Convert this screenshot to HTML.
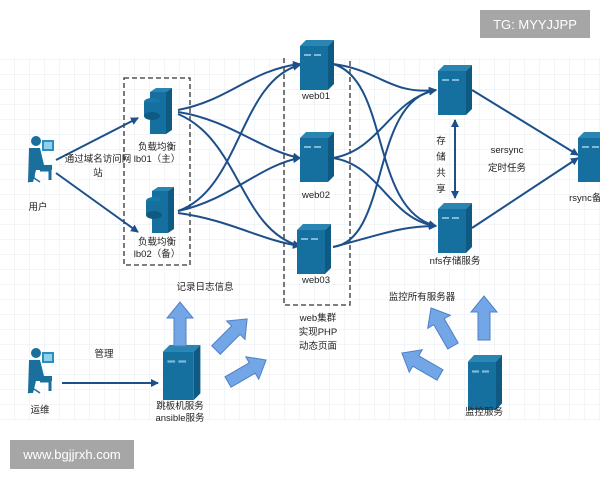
<!DOCTYPE html>
<html><head><meta charset="utf-8"><style>
body{margin:0;width:600px;height:480px;background:#fff;overflow:hidden;position:relative;font-family:"Liberation Sans","Noto Sans CJK SC",sans-serif}
.tag{position:absolute;background:#a6a6a6;color:#fff;font-size:13px;display:flex;align-items:center;justify-content:center}
</style></head><body>
<svg width="600" height="480" style="position:absolute;left:0;top:0" font-family="Liberation Sans, Noto Sans CJK SC, sans-serif">
<defs>
<pattern id="g" width="15" height="15" patternUnits="userSpaceOnUse"><path d="M15 0V15H0" fill="none" stroke="#e6ecf2" stroke-width="1"/></pattern>
<marker id="a" markerWidth="8" markerHeight="8" refX="7" refY="4" orient="auto" markerUnits="userSpaceOnUse"><path d="M0,0L8,4L0,8z" fill="#1d4f8a"/></marker>
<marker id="as" markerWidth="8" markerHeight="8" refX="1" refY="4" orient="auto" markerUnits="userSpaceOnUse"><path d="M8,0L0,4L8,8z" fill="#1d4f8a"/></marker>
<g id="srv"><path d="M0,6L6,0H34L28,6z" fill="#2b85b3"/><path d="M28,6L34,0V44L28,50z" fill="#0f5a82"/><rect x="0" y="6" width="28" height="44" fill="#16709f"/><rect x="4" y="14" width="7" height="2" fill="#7fb9d8"/><rect x="14" y="14" width="7" height="2" fill="#7fb9d8"/></g>
<g id="ba"><path d="M-6,0V-28H-13L0,-44L13,-28H6V0z" fill="#72a6e6" stroke="#4f80c4" stroke-width="1"/></g>
</defs>
<rect x="0" y="58" width="600" height="363" fill="url(#g)"/>
<rect x="124" y="78" width="66" height="187" fill="none" stroke="#333" stroke-width="1.3" stroke-dasharray="5,3"/>
<path d="M284,58V305H350V58" fill="none" stroke="#333" stroke-width="1.3" stroke-dasharray="5,3"/>
<g fill="none" stroke="#1d4f8a" stroke-width="2">
<path d="M56,160L138,118" marker-end="url(#a)"/>
<path d="M56,173L138,232" marker-end="url(#a)"/>
<path d="M178,110C230,100 250,70 300,64" marker-end="url(#a)"/>
<path d="M178,112C230,120 260,150 300,158" marker-end="url(#a)"/>
<path d="M178,114C240,140 240,230 300,246" marker-end="url(#a)"/>
<path d="M178,211C240,190 240,80 300,65" marker-end="url(#a)"/>
<path d="M178,211C230,200 260,165 300,158" marker-end="url(#a)"/>
<path d="M178,213C230,220 260,240 300,246" marker-end="url(#a)"/>
<path d="M333,64C380,70 390,95 436,90" marker-end="url(#a)"/>
<path d="M333,64C390,80 370,210 436,226" marker-end="url(#a)"/>
<path d="M333,158C380,150 390,100 436,90" marker-end="url(#a)"/>
<path d="M333,158C380,165 390,220 436,226" marker-end="url(#a)"/>
<path d="M333,247C390,240 370,100 436,90" marker-end="url(#a)"/>
<path d="M333,247C380,235 400,226 436,226" marker-end="url(#a)"/>
<path d="M472,90L578,155" marker-end="url(#a)"/>
<path d="M472,228L578,158" marker-end="url(#a)"/>
<path d="M455,120V198" marker-end="url(#a)" marker-start="url(#as)"/>
<path d="M62,383L158,383" marker-end="url(#a)"/>
</g>
<g transform="translate(142,88)"><path d="M8,4L14,0H30L24,4z" fill="#2b85b3"/><path d="M24,4L30,0V42L24,46z" fill="#0f5a82"/><rect x="8" y="4" width="16" height="42" fill="#16709f"/><ellipse cx="10" cy="14" rx="8" ry="4" fill="#1a78a8"/><rect x="2" y="14" width="16" height="14" fill="#16709f"/><ellipse cx="10" cy="28" rx="8" ry="4" fill="#0f5a82"/></g>
<g transform="translate(144,187)"><path d="M8,4L14,0H30L24,4z" fill="#2b85b3"/><path d="M24,4L30,0V42L24,46z" fill="#0f5a82"/><rect x="8" y="4" width="16" height="42" fill="#16709f"/><ellipse cx="10" cy="14" rx="8" ry="4" fill="#1a78a8"/><rect x="2" y="14" width="16" height="14" fill="#16709f"/><ellipse cx="10" cy="28" rx="8" ry="4" fill="#0f5a82"/></g>
<use href="#srv" x="300" y="40"/>
<use href="#srv" x="300" y="132"/>
<use href="#srv" x="297" y="224"/>
<use href="#srv" x="438" y="65"/>
<use href="#srv" x="438" y="203"/>
<use href="#srv" x="578" y="132"/>
<use href="#srv" transform="translate(163,345) scale(1.1)"/>
<use href="#srv" transform="translate(468,355) scale(1.0,1.1)"/>
<g fill="#1a6f9c">
<circle cx="36" cy="141" r="5"/><path d="M29,148H40L44,165H52V170H36L33,182H28z"/><rect x="42" y="140" width="12" height="11" fill="#2a8fbf"/><rect x="44" y="142" width="8" height="7" fill="#8fd0ea"/><path d="M28,182L34,178L40,182M34,178V175" stroke="#1a6f9c" stroke-width="1.5" fill="none"/><path d="M40,170H50V180" stroke="#1a6f9c" stroke-width="3" fill="none"/>
<circle cx="36" cy="353" r="5"/><path d="M29,360H40L44,376H52V381H36L33,393H28z"/><rect x="42" y="352" width="12" height="11" fill="#2a8fbf"/><rect x="44" y="354" width="8" height="7" fill="#8fd0ea"/><path d="M28,393L34,389L40,393" stroke="#1a6f9c" stroke-width="1.5" fill="none"/><path d="M40,381H50V391" stroke="#1a6f9c" stroke-width="3" fill="none"/>
</g>
<use href="#ba" transform="translate(180,346)"/>
<use href="#ba" transform="translate(216,350) rotate(45)"/>
<use href="#ba" transform="translate(228,382) rotate(60)"/>
<use href="#ba" transform="translate(484,340)"/>
<use href="#ba" transform="translate(453,346) rotate(-30)"/>
<use href="#ba" transform="translate(440,375) rotate(-60)"/>
<g font-size="9.5" fill="#222" text-anchor="middle">
<text x="98" y="162">通过域名访问网</text><text x="98" y="176">站</text>
<text x="38" y="210">用户</text>
<text x="157" y="150">负载均衡</text><text x="157" y="162">lb01（主）</text>
<text x="157" y="245">负载均衡</text><text x="157" y="257">lb02（备）</text>
<text x="316" y="99">web01</text><text x="316" y="198">web02</text><text x="316" y="283">web03</text>
<text x="441" y="144">存</text><text x="441" y="160">储</text><text x="441" y="176">共</text><text x="441" y="192">享</text>
<text x="507" y="153">sersync</text><text x="507" y="171">定时任务</text>
<text x="455" y="264">nfs存储服务</text><text x="590" y="201">rsync备份</text>
<text x="205" y="290">记录日志信息</text>
<text x="318" y="321">web集群</text><text x="318" y="335">实现PHP</text><text x="318" y="349">动态页面</text>
<text x="422" y="300">监控所有服务器</text>
<text x="104" y="357">管理</text><text x="40" y="413">运维</text>
<text x="180" y="409">跳板机服务</text><text x="180" y="421">ansible服务</text>
<text x="484" y="415">监控服务</text>
</g>
</svg>
<div class="tag" style="left:480px;top:10px;width:110px;height:28px">TG: MYYJJPP</div>
<div class="tag" style="left:10px;top:440px;width:124px;height:29px">www.bgjjrxh.com</div>
</body></html>
